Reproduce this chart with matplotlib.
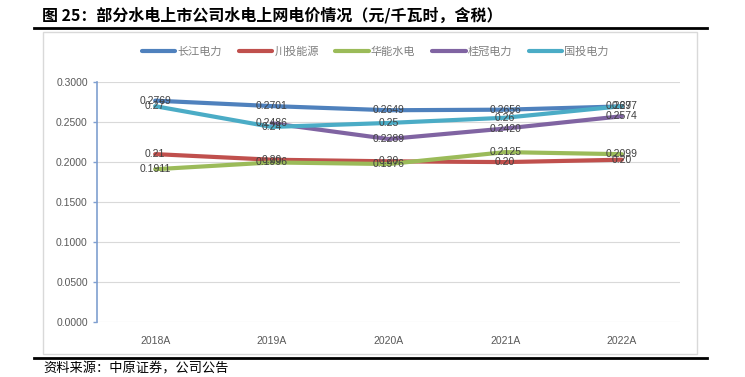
import numpy as np
import matplotlib
matplotlib.use("Agg")
import matplotlib.pyplot as plt
from matplotlib.patches import Rectangle

plt.rcParams['font.family'] = ['Liberation Sans', 'Noto Sans CJK SC', 'DejaVu Sans']

# ---------------- DATA ----------------
years = ["2018A", "2019A", "2020A", "2021A", "2022A"]
cjdl = [0.2769, 0.2701, 0.2649, 0.2656, 0.2697]   # 长江电力
ctny = [0.21, 0.203, 0.201, 0.200, 0.203]          # 川投能源
hnsd = [0.1911, 0.1996, 0.1976, 0.2125, 0.2099]    # 华能水电
ggdl = [np.nan, 0.2486, 0.2289, 0.2420, 0.2574]    # 桂冠电力
gtdl = [0.27, 0.244, 0.249, 0.2555, 0.27]          # 国投电力

series = [
    ("长江电力", cjdl, "#4F81BD", "{:.4f}"),
    ("川投能源", ctny, "#C0504D", "{:.2f}"),
    ("华能水电", hnsd, "#9BBB59", "{:.4f}"),
    ("桂冠电力", ggdl, "#8064A2", "{:.4f}"),
    ("国投电力", gtdl, "#4BACC6", "{:.2f}"),
]

# ---------------- FIGURE ----------------
fig = plt.figure(figsize=(7.45, 3.77), dpi=100)
ax = fig.add_axes([0.130, 0.146, 0.783, 0.636])

x = np.arange(len(years))
for name, vals, color, fmt in series:
    ax.plot(x, vals, color=color, lw=3, label=name, solid_capstyle="round")
for name, vals, color, fmt in series:
    for xi, v in zip(x, vals):
        if np.isnan(v):
            continue
        ax.text(xi, v, fmt.format(v), ha="center", va="center",
                fontsize=7.5, color="#404040")

ax.set_xlim(-0.5, len(years) - 0.5)
ax.set_ylim(0, 0.3)
ax.set_yticks(np.arange(0, 0.3001, 0.05))
ax.set_yticklabels(["{:.4f}".format(t) for t in np.arange(0, 0.3001, 0.05)])
ax.set_xticks(x)
ax.set_xticklabels(years)
ax.grid(axis="y", color="#D9D9D9", lw=0.8)
ax.set_axisbelow(True)
for s in ["top", "right", "bottom"]:
    ax.spines[s].set_visible(False)
ax.spines["left"].set_color("#7F9FD0")
ax.spines["left"].set_linewidth(1.2)
ax.tick_params(axis="y", colors="#7F9FD0", labelcolor="#595959", labelsize=7.5,
               length=3, width=1)
ax.tick_params(axis="x", length=0, labelcolor="#595959", labelsize=7.5, pad=10)

leg = fig.legend(loc="center", bbox_to_anchor=(0.504, 0.862), ncol=5, frameon=False,
                 fontsize=8, handlelength=3.0, handletextpad=0.2, columnspacing=1.5)
for t in leg.get_texts():
    t.set_color("#7F7F7F")

# outer frame
fig.patches.append(Rectangle((0.0577, 0.061), 0.878, 0.854, transform=fig.transFigure,
                             fill=False, edgecolor="#D9D9D9", lw=1))

# title and rules
fig.text(0.056, 0.960, "图 25：部分水电上市公司水电上网电价情况（元/千瓦时，含税）",
         fontsize=11.5, fontweight="bold", color="#000000", va="center",
         family=["Noto Sans CJK SC", "DejaVu Sans"])
fig.add_artist(plt.Line2D([0.0456, 0.949], [0.925, 0.925], color="black", lw=2,
                          transform=fig.transFigure))
fig.add_artist(plt.Line2D([0.0456, 0.949], [0.0496, 0.0496], color="black", lw=2,
                          transform=fig.transFigure))
fig.text(0.058, 0.022, "资料来源：中原证券，公司公告", fontsize=9.5, color="#000000",
         va="center", family=["Noto Sans CJK SC", "DejaVu Sans"])

fig.savefig("out.png", dpi=100)
